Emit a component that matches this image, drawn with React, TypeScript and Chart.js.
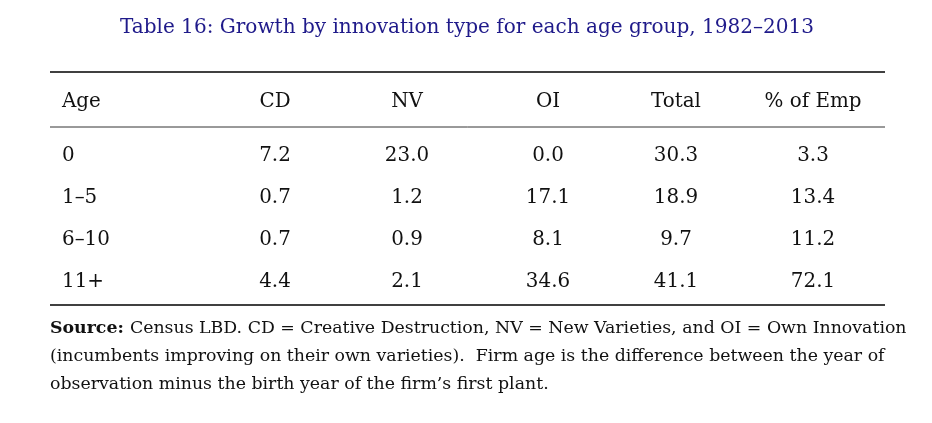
import { useEffect, useRef } from 'react';
import Chart from 'chart.js/auto';

const title = 'Table 16: Growth by innovation type for each age group, 1982–2013';
const headers = ['Age', 'CD', 'NV', 'OI', 'Total', '% of Emp'];
const ages = ['0', '1–5', '6–10', '11+'];
const cd = [7.2, 0.7, 0.7, 4.4];
const nv = [23.0, 1.2, 0.9, 2.1];
const oi = [0.0, 17.1, 8.1, 34.6];
const total = [30.3, 18.9, 9.7, 41.1];
const pctEmp = [3.3, 13.4, 11.2, 72.1];
const noteLines = [
  'Census LBD. CD = Creative Destruction, NV = New Varieties, and OI = Own Innovation',
  '(incumbents improving on their own varieties).  Firm age is the difference between the year of',
  'observation minus the birth year of the firm’s first plant.',
];

// layout in page pixels, mapped through the hidden linear scales
const colX = [62, 275, 407, 548, 676, 813];
const headerY = 102;
const rowY = [156, 198, 240, 282];
const SERIF = '"DejaVu Serif", "Liberation Serif", serif';

export default function App() {
  const canvasRef = useRef<HTMLCanvasElement>(null);
  const chartRef = useRef<Chart | null>(null);

  useEffect(() => {
    if (!canvasRef.current) return;
    const columns = [ages, cd, nv, oi, total, pctEmp];
    const points = rowY.flatMap((y) => colX.map((x) => ({ x, y })));

    const tablePlugin = {
      id: 'table',
      afterDraw(chart: Chart) {
        const ctx = chart.ctx;
        const sx = chart.scales.x;
        const sy = chart.scales.y;
        const X = (v: number) => sx.getPixelForValue(v);
        const Y = (v: number) => sy.getPixelForValue(v);
        // pick a font size so a text spans a given width
        const fit = (text: string, width: number, weight = '') => {
          ctx.font = `${weight} 20px ${SERIF}`;
          return (20 * width) / ctx.measureText(text).width;
        };
        ctx.save();
        ctx.textBaseline = 'middle';

        ctx.fillStyle = '#1f1a8a';
        ctx.font = `${fit(title, 695)}px ${SERIF}`;
        ctx.textAlign = 'center';
        ctx.fillText(title, X(467), Y(28));

        ctx.strokeStyle = '#000';
        const rule = (y: number, w: number) => {
          ctx.lineWidth = w;
          ctx.beginPath();
          ctx.moveTo(X(50), Y(y));
          ctx.lineTo(X(885), Y(y));
          ctx.stroke();
        };
        rule(72, 1.5);
        rule(127, 0.8);
        rule(305, 1.5);

        ctx.fillStyle = '#111';
        ctx.font = `${fit('% of Emp', 97)}px ${SERIF}`;
        headers.forEach((h, i) => {
          ctx.textAlign = i === 0 ? 'left' : 'center';
          ctx.fillText(h, X(colX[i]), Y(headerY));
        });
        columns.forEach((col, i) => {
          col.forEach((v, r) => {
            ctx.textAlign = i === 0 ? 'left' : 'center';
            const s = typeof v === 'number' ? v.toFixed(1) : v;
            ctx.fillText(s, X(colX[i]), Y(rowY[r]));
          });
        });

        const noteSize = fit(noteLines[1], 835);
        ctx.font = `bold ${noteSize}px ${SERIF}`;
        ctx.textAlign = 'left';
        const lead = 'Source:';
        ctx.fillText(lead, X(50), Y(328));
        const lw = ctx.measureText(lead + ' ').width;
        ctx.font = `${noteSize}px ${SERIF}`;
        ctx.fillText(noteLines[0], X(50) + lw, Y(328));
        ctx.fillText(noteLines[1], X(50), Y(356));
        ctx.fillText(noteLines[2], X(50), Y(384));
        ctx.restore();
      },
    };

    chartRef.current = new Chart(canvasRef.current, {
      type: 'scatter',
      data: { datasets: [{ data: points, pointRadius: 0, pointHoverRadius: 0 }] },
      options: {
        animation: false,
        responsive: true,
        maintainAspectRatio: false,
        layout: { padding: 0 },
        events: [],
        plugins: { legend: { display: false }, tooltip: { enabled: false } },
        scales: {
          x: { type: 'linear', min: 0, max: 932, display: false },
          y: { type: 'linear', min: 0, max: 423, reverse: true, display: false },
        },
      },
      plugins: [tablePlugin],
    });
    return () => {
      chartRef.current?.destroy();
    };
  }, []);

  return (
    <div style={{ position: 'fixed', left: 0, top: 0, width: 932, height: 423, background: '#fff' }}>
      <canvas ref={canvasRef}></canvas>
    </div>
  );
}
